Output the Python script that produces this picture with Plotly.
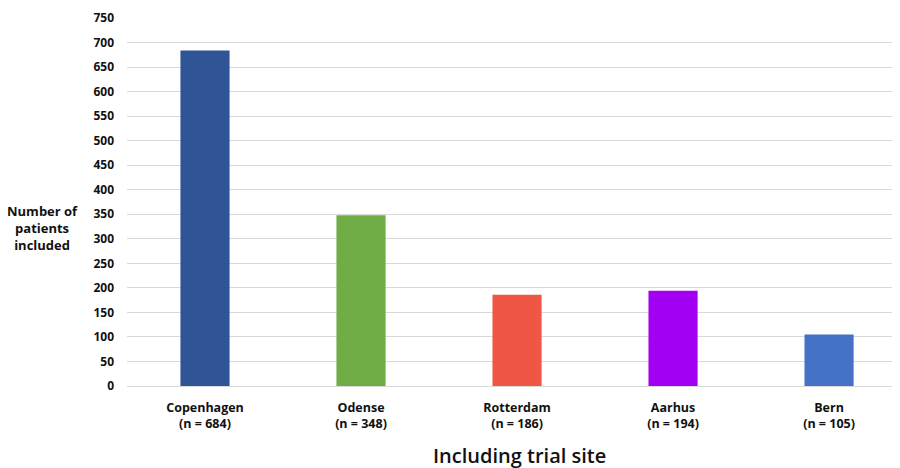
import plotly.graph_objects as go

sites = ["Copenhagen", "Odense", "Rotterdam", "Aarhus", "Bern"]
patients = [684, 348, 186, 194, 105]
colors = ["#2F5597", "#70AD47", "#EF5643", "#A200F2", "#4472C4"]
tick_labels = [f"{s}<br>(n = {n})" for s, n in zip(sites, patients)]
y_ticks = list(range(0, 751, 50))

FONT = "Open Sans"

fig = go.Figure(go.Bar(
    x=sites, y=patients, marker=dict(color=colors, line=dict(width=0)),
    width=0.315,
))

fig.update_layout(
    width=900, height=460,
    margin=dict(l=119, r=0, t=10, b=82),
    paper_bgcolor="white", plot_bgcolor="white",
    showlegend=False,
    font=dict(family=FONT, color="#000000"),
    xaxis=dict(
        type="category", range=[-0.5, 4.506],
        tickvals=sites, ticktext=tick_labels,
        tickfont=dict(family=FONT, size=12.5, weight="bold", color="#111111"),
        showgrid=False, showline=True, linecolor="#d9d9d9", linewidth=1,
        ticks="", ticklen=0, ticklabelstandoff=10,
    ),
    yaxis=dict(
        range=[0, 750], tickvals=y_ticks,
        tickfont=dict(family=FONT, size=12, weight="bold", color="#111111"),
        showgrid=True, gridcolor="#d9d9d9", gridwidth=1,
        zeroline=False, showline=False, ticks="", ticklabelstandoff=12,
    ),
    annotations=[
        dict(text="<b>Number of<br>patients<br>included</b>", xref="paper", yref="paper",
             x=-0.1088, y=0.43, xanchor="center", yanchor="middle", showarrow=False,
             font=dict(family=FONT, size=13, color="#111111"), align="center"),
        dict(text="Including trial site", xref="paper", yref="paper",
             x=0.502, y=-0.19, xanchor="center", yanchor="middle", showarrow=False,
             font=dict(family=FONT, size=20, color="#111111", weight=600)),
    ],
)

fig.write_html("out.html")
